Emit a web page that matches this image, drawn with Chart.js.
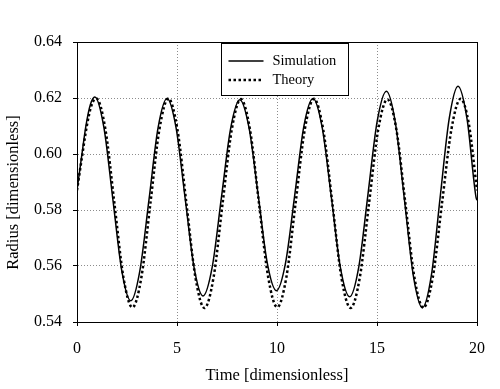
<!DOCTYPE html>
<html>
<head>
<meta charset="utf-8">
<script src="https://cdn.jsdelivr.net/npm/chart.js@4/dist/chart.umd.min.js"></script>
<style>
  html, body { margin: 0; padding: 0; background: #fff; }
  #wrap { width: 500px; height: 389px; position: relative; }
</style>
</head>
<body>
<div id="wrap"><canvas id="c" width="500" height="389"></canvas></div>
<script>
// ---- data ----
const simTime = [0.00, 0.22, 0.45, 0.67, 0.89, 1.34, 1.79, 2.24, 2.69, 3.14, 3.60, 4.05, 4.50,
  4.95, 5.40, 5.85, 6.30, 6.76, 7.22, 7.68, 8.14, 8.60, 9.06, 9.51, 9.97, 10.43, 10.89, 11.34, 11.80,
  12.26, 12.72, 13.17, 13.63, 14.09, 14.55, 15.01, 15.47, 15.92, 16.37, 16.82, 17.27, 17.72, 18.16,
  18.61, 19.05, 19.50, 19.95, 20.00];
const simRadius = [0.5870, 0.5985, 0.6102, 0.6177, 0.6204, 0.6097, 0.5840, 0.5583, 0.5476, 0.5582, 0.5837, 0.6092, 0.6198,
  0.6095, 0.5846, 0.5596, 0.5493, 0.5596, 0.5844, 0.6091, 0.6194, 0.6094, 0.5853, 0.5612, 0.5512, 0.5612, 0.5855, 0.6098, 0.6198,
  0.6094, 0.5844, 0.5594, 0.5490, 0.5597, 0.5857, 0.6117, 0.6224, 0.6111, 0.5838, 0.5564, 0.5451, 0.5567, 0.5847,
  0.6126, 0.6242, 0.6126, 0.5846, 0.5835];

const theoryTime = [0.00, 0.24, 0.49, 0.73, 0.97, 1.42, 1.87, 2.32, 2.77, 3.22, 3.67, 4.12, 4.57,
  5.02, 5.47, 5.92, 6.37, 6.83, 7.28, 7.74, 8.19, 8.65, 9.10, 9.56, 10.01, 10.47, 10.93, 11.39, 11.85,
  12.31, 12.77, 13.22, 13.68, 14.14, 14.60, 15.06, 15.52, 15.97, 16.42, 16.87, 17.32, 17.79, 18.25,
  18.72, 19.18, 19.59, 20.00];
const theoryRadius = [0.5870, 0.5985, 0.6100, 0.6175, 0.6198, 0.6088, 0.5824, 0.5560, 0.5452, 0.5560, 0.5824, 0.6088, 0.6198,
  0.6088, 0.5824, 0.5560, 0.5450, 0.5560, 0.5824, 0.6088, 0.6196, 0.6087, 0.5824, 0.5560, 0.5453, 0.5561, 0.5825, 0.6088, 0.6197,
  0.6087, 0.5823, 0.5559, 0.5450, 0.5559, 0.5823, 0.6087, 0.6195, 0.6087, 0.5823, 0.5559, 0.5451, 0.5560, 0.5824,
  0.6088, 0.6197, 0.6108, 0.5870];

const xTicks = [0, 5, 10, 15, 20];
const yTicks = [0.54, 0.56, 0.58, 0.60, 0.62, 0.64];
const seriesNames = ['Simulation', 'Theory'];
const xTitle = 'Time [dimensionless]';
const yTitle = 'Radius [dimensionless]';

// ---- chart ----
const FONT = '"Liberation Serif", "Times New Roman", serif';
const toPts = (xs, ys) => xs.map((x, i) => ({ x: x, y: ys[i] }));

const framePlugin = {
  id: 'frameAndLegend',
  afterDraw(chart) {
    const { ctx, chartArea: a } = chart;
    ctx.save();
    ctx.strokeStyle = '#000';
    ctx.lineWidth = 1;
    ctx.setLineDash([]);
    ctx.strokeRect(Math.round(a.left) + 0.5, Math.round(a.top) + 0.5,
      Math.round(a.right - a.left), Math.round(a.bottom - a.top));

    // y axis title (centred on the canvas height, as in the reference)
    ctx.save();
    ctx.translate(13.5, chart.height / 2 - 2);
    ctx.rotate(-Math.PI / 2);
    ctx.fillStyle = '#000';
    ctx.font = '16.5px ' + FONT;
    ctx.textAlign = 'center';
    ctx.textBaseline = 'middle';
    ctx.fillText(yTitle, 0, 0);
    ctx.restore();

    // legend box
    const bx = Math.round(a.left + 144) + 0.5, by = Math.round(a.top + 1) + 0.5;
    const bw = 127, bh = 52;
    ctx.fillStyle = '#fff';
    ctx.fillRect(bx, by, bw, bh);
    ctx.strokeStyle = '#000';
    ctx.lineWidth = 1;
    ctx.strokeRect(bx, by, bw, bh);

    const ds = chart.data.datasets;
    const rows = [by + 17.5, by + 36.5];
    ds.forEach((d, i) => {
      ctx.beginPath();
      ctx.strokeStyle = '#000';
      ctx.lineWidth = d.borderWidth;
      ctx.setLineDash(d.borderDash || []);
      ctx.moveTo(bx + 7, rows[i]);
      ctx.lineTo(bx + 42, rows[i]);
      ctx.stroke();
      ctx.setLineDash([]);
      ctx.fillStyle = '#000';
      ctx.font = '14.5px ' + FONT;
      ctx.textBaseline = 'middle';
      ctx.textAlign = 'left';
      ctx.fillText(d.label, bx + 51, rows[i]);
    });
    ctx.restore();
  }
};

new Chart(document.getElementById('c'), {
  type: 'line',
  data: {
    datasets: [
      {
        label: seriesNames[0],
        data: toPts(simTime, simRadius),
        borderColor: '#000',
        borderWidth: 1.5,
        pointRadius: 0,
        fill: false,
        cubicInterpolationMode: 'monotone'
      },
      {
        label: seriesNames[1],
        data: toPts(theoryTime, theoryRadius),
        borderColor: '#000',
        borderWidth: 2.5,
        borderDash: [2.5, 2.5],
        pointRadius: 0,
        fill: false,
        cubicInterpolationMode: 'monotone'
      }
    ]
  },
  options: {
    responsive: false,
    animation: false,
    layout: { padding: { top: 42, right: 23, left: 0, bottom: 0 } },
    plugins: { legend: { display: false }, tooltip: { enabled: false } },
    scales: {
      x: {
        type: 'linear',
        min: 0, max: 20,
        afterBuildTicks: (s) => { s.ticks = xTicks.map(v => ({ value: v })); },
        afterFit: (s) => { s.height = 67; },
        ticks: { color: '#000', font: { family: FONT, size: 16 }, padding: 13, maxRotation: 0 },
        grid: { color: '#8c8c8c', lineWidth: 1, tickColor: '#000', tickLength: 4, drawTicks: true },
        border: { display: true, color: '#000', width: 1, dash: [1, 2] },
        title: { display: true, text: xTitle, color: '#000', font: { family: FONT, size: 16.5 }, padding: { top: 0, bottom: 3 } }
      },
      y: {
        type: 'linear',
        min: 0.54, max: 0.64,
        afterBuildTicks: (s) => { s.ticks = yTicks.map(v => ({ value: v })); },
        afterFit: (s) => { s.width = 77; },
        ticks: { color: '#000', font: { family: FONT, size: 16 }, padding: 11, callback: (v) => Number(v).toFixed(2) },
        grid: { color: '#8c8c8c', lineWidth: 1, tickColor: '#000', tickLength: 4, drawTicks: true },
        border: { display: true, color: '#000', width: 1, dash: [1, 2] },
        title: { display: false, text: yTitle }
      }
    }
  },
  plugins: [framePlugin]
});
</script>
</body>
</html>
